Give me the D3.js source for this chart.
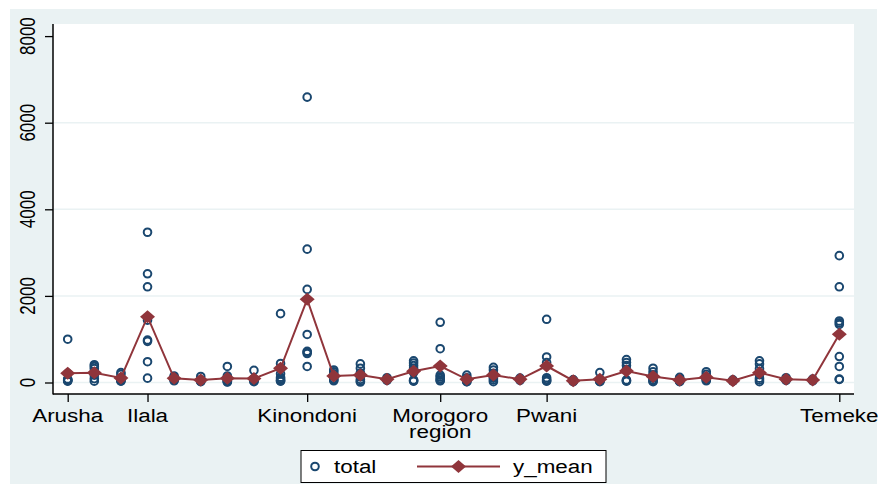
<!DOCTYPE html>
<html>
<head>
<meta charset="utf-8">
<script src="https://cdn.jsdelivr.net/npm/d3@7"></script>
<style>
	body{margin:0;background:#fff;}
	text{font-family:'Liberation Sans',Arial,sans-serif;fill:#000;}
</style>
</head>
<body>
<svg id="chart" width="887" height="484"></svg>
<script>
/*values*/
const district_idx = d3.range(30)
const tick_idx = [0,3,9,14,18,29]
const tick_labels = [['Arusha'],['Ilala'],['Kinondoni'],['Morogoro','region'],['Pwani'],['Temeke']]
const y_ticks = [0,2000,4000,6000,8000]
const y_grid = [0,2000,4000,6000]

const totals = [
	[1000,210,80,60,50,40,30],
	[410,370,320,240,170,90,30],
	[230,190,100,60,40,30],
	[3470,2510,2210,1440,980,950,480,100],
	[150,120,90,60,40],
	[140,60,30,20,40],
	[370,150,60,30,20,10],
	[280,90,60,30,20],
	[1590,440,330,200,120,90,60,40,30],
	[6590,3080,2150,1110,720,700,670,370],
	[290,250,200,150,90,60,40],
	[430,330,220,130,70,30,10],
	[110,80,60,50],
	[500,450,390,330,230,60,40,30],
	[1390,780,170,130,90,50,40],
	[170,110,50,20,20],
	[350,290,210,130,100,60,20],
	[100,70,50],
	[1460,590,460,110,70,40,30],
	[60,40,30,20,60],
	[230,60,30,20,30],
	[530,460,390,300,60,40,30],
	[330,250,180,100,60,30,20],
	[120,80,40,20,30],
	[250,190,130,90,60,40],
	[60,40,30,40],
	[500,430,320,180,100,60,20],
	[110,80,60,50,70],
	[80,60,50,40],
	[2930,2210,1420,1380,1340,600,370,80,70]
]
const y_mean = [212,226,105,1520,97,58,100,90,328,1921,150,173,74,260,381,74,173,74,381,42,74,265,140,58,120,42,226,74,58,1113]

const navy = '#1a476f'
const maroon = '#90353b'
const bg = '#eaf2f3'
const sx = 1.18 //picture is stretched sideways

const svg = d3.select('#chart')

//graph region + plot region
svg.append('rect').attr('x',10).attr('y',9).attr('width',867).attr('height',475).attr('fill',bg)
svg.append('rect').attr('x',53).attr('y',24).attr('width',801).attr('height',370).attr('fill','#fff')

const xScale = d3.scaleLinear().domain([0,29]).range([67.7,839.3])
const yScale = d3.scaleLinear().domain([0,8000]).range([382.5,36.1])

//grid
svg.append('g')
	.selectAll('line')
	.data(y_grid)
	.enter()
	.append('line')
	.attr('x1',53).attr('x2',854)
	.attr('y1',d => yScale(d)).attr('y2',d => yScale(d))
	.attr('stroke',bg).attr('stroke-width',1.5)

//y axis
const axisY = svg.append('g')
	.attr('transform','translate(53,0)')
	.call(d3.axisLeft(yScale).tickValues(y_ticks).tickSize(8).tickFormat(''))
axisY.select('.domain').remove()
axisY.selectAll('.tick line').attr('stroke','#000').attr('stroke-width',1.3)
svg.append('line').attr('x1',53).attr('x2',53).attr('y1',24).attr('y2',394.5)
	.attr('stroke','#000').attr('stroke-width',1.5)

svg.append('g')
	.selectAll('text')
	.data(y_ticks)
	.enter()
	.append('text')
	.attr('transform',d => `translate(27,${yScale(d)}) scale(1.35,1) rotate(-90)`)
	.attr('text-anchor','middle')
	.attr('dy','0.36em')
	.attr('font-size',17)
	.text(d => d)

//x axis
const axisX = svg.append('g')
	.attr('transform','translate(0,394)')
	.call(d3.axisBottom(xScale).tickValues(tick_idx).tickSize(8).tickFormat(''))
axisX.select('.domain').remove()
axisX.selectAll('.tick line').attr('stroke','#000').attr('stroke-width',1.3)
svg.append('line').attr('x1',53).attr('x2',854).attr('y1',394).attr('y2',394)
	.attr('stroke','#000').attr('stroke-width',1.5)

const xlab = svg.append('g')
	.selectAll('text')
	.data(tick_idx)
	.enter()
	.append('text')
	.attr('transform',d => `translate(${xScale(d)},421.5) scale(${sx},1)`)
	.attr('text-anchor','middle')
	.attr('font-size',19)
xlab.selectAll('tspan')
	.data((d,i) => tick_labels[i])
	.enter()
	.append('tspan')
	.attr('x',0)
	.attr('y',(d,i) => i*16)
	.text(d => d)

//points
const pts = []
totals.forEach((arr,i) => arr.forEach(v => pts.push({i:district_idx[i],v:v})))

svg.append('g')
	.selectAll('circle')
	.data(pts)
	.enter()
	.append('circle')
	.attr('cx',d => xScale(d.i))
	.attr('cy',d => yScale(d.v))
	.attr('r',3.8)
	.attr('fill','none')
	.attr('stroke',navy)
	.attr('stroke-width',2)

const line = d3.line()
	.x((d,i) => xScale(district_idx[i]))
	.y(d => yScale(d))

svg.append('path')
	.datum(y_mean)
	.attr('d',line)
	.attr('fill','none')
	.attr('stroke',maroon)
	.attr('stroke-width',2)

const diamond = (cx,cy) => `M${cx},${cy-6.5} L${cx+7.5},${cy} L${cx},${cy+6.5} L${cx-7.5},${cy} Z`

svg.append('g')
	.selectAll('path')
	.data(y_mean)
	.enter()
	.append('path')
	.attr('d',(d,i) => diamond(xScale(district_idx[i]),yScale(d)))
	.attr('fill',maroon)

//legend
const legend = svg.append('g')
legend.append('rect').attr('x',301).attr('y',450.5).attr('width',305).attr('height',32)
	.attr('fill','#fff').attr('stroke','#000').attr('stroke-width',1)
legend.append('circle').attr('cx',315).attr('cy',466.5).attr('r',3.8)
	.attr('fill','none').attr('stroke',navy).attr('stroke-width',2)
legend.append('text').attr('transform',`translate(334,473) scale(${sx},1)`).attr('font-size',19).text('total')
legend.append('line').attr('x1',417).attr('x2',500).attr('y1',466.5).attr('y2',466.5)
	.attr('stroke',maroon).attr('stroke-width',2)
legend.append('path').attr('d',diamond(458.5,466.5)).attr('fill',maroon)
legend.append('text').attr('transform',`translate(513,473) scale(${sx},1)`).attr('font-size',19).text('y_mean')
</script>
</body>
</html>
